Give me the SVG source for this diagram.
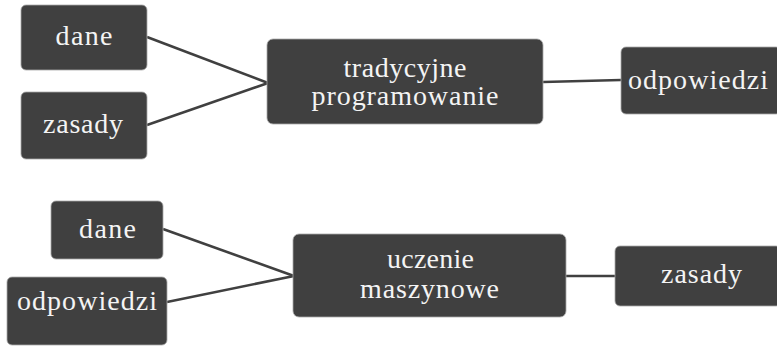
<svg xmlns="http://www.w3.org/2000/svg" width="777" height="346" viewBox="0 0 777 346">
  <style>
    .box { fill: #404040; stroke: #a8a8a8; stroke-width: 0.8; }
    .lbl { fill: #f4f4f4; text-anchor: middle; }
    .edge { stroke: #404040; stroke-width: 2.6; fill: none; stroke-linecap: butt; }
  </style>
  <rect width="777" height="346" fill="#ffffff"/>

  <!-- connectors -->
  <g id="connectors">
    <line class="edge" x1="147" y1="37" x2="268" y2="83"/>
    <line class="edge" x1="147" y1="125" x2="268" y2="83"/>
    <line class="edge" x1="543" y1="82" x2="621" y2="80"/>
    <line class="edge" x1="163" y1="229" x2="294" y2="276"/>
    <line class="edge" x1="167" y1="302" x2="294" y2="276"/>
    <line class="edge" x1="566" y1="276" x2="615" y2="276"/>
  </g>

  <g font-family="Liberation Serif" font-size="28">
  <!-- traditional programming -->
  <g id="dane-1">
    <rect class="box" x="21" y="5" width="126" height="65" rx="5"/>
    <text class="lbl" x="84" y="45" textLength="57">dane</text>
  </g>
  <g id="zasady-1">
    <rect class="box" x="21" y="92" width="126" height="67" rx="5"/>
    <text class="lbl" x="83" y="133" textLength="80">zasady</text>
  </g>
  <g id="tradycyjne-programowanie">
    <rect class="box" x="267" y="39" width="276" height="85" rx="6"/>
    <text class="lbl" x="405" y="77" textLength="123">tradycyjne</text>
    <text class="lbl" x="405" y="105" textLength="187">programowanie</text>
  </g>
  <g id="odpowiedzi-1">
    <rect class="box" x="621" y="47" width="160" height="67" rx="5"/>
    <text class="lbl" x="698" y="89" textLength="140">odpowiedzi</text>
  </g>

  <!-- machine learning -->
  <g id="dane-2">
    <rect class="box" x="51" y="201" width="112" height="58" rx="5"/>
    <text class="lbl" x="107.5" y="238" textLength="57">dane</text>
  </g>
  <g id="odpowiedzi-2">
    <rect class="box" x="7" y="277" width="160" height="68" rx="5"/>
    <text class="lbl" x="87" y="310" textLength="140">odpowiedzi</text>
  </g>
  <g id="uczenie-maszynowe">
    <rect class="box" x="293" y="234" width="273" height="83" rx="6"/>
    <text class="lbl" x="430.5" y="268" textLength="87">uczenie</text>
    <text class="lbl" x="429.5" y="298" textLength="139">maszynowe</text>
  </g>
  <g id="zasady-2">
    <rect class="box" x="615" y="246" width="166" height="60" rx="5"/>
    <text class="lbl" x="701.5" y="283" textLength="81">zasady</text>
  </g>
  </g>
</svg>
